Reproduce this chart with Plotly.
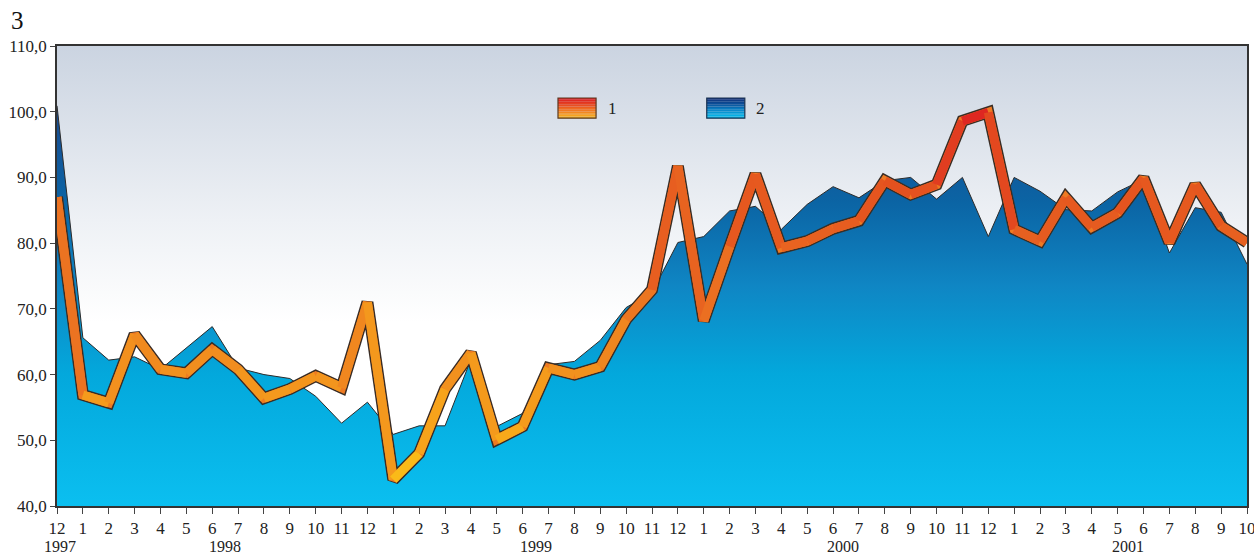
import plotly.graph_objects as go
from plotly.colors import sample_colorscale

# ---- data ----
months = ["12", "1", "2", "3", "4", "5", "6", "7", "8", "9", "10", "11", "12",
          "1", "2", "3", "4", "5", "6", "7", "8", "9", "10", "11", "12",
          "1", "2", "3", "4", "5", "6", "7", "8", "9", "10", "11", "12",
          "1", "2", "3", "4", "5", "6", "7", "8", "9", "10"]
years = ["1997", "1998", "1999", "2000", "2001"]
year_pos = [0.1, 6.5, 18.5, 30.4, 41.4]

series1 = [87.0, 56.9, 55.7, 66.1, 60.8, 60.2, 63.8, 60.8, 56.4, 57.8, 59.8, 58.0, 71.0,
           44.0, 48.0, 57.8, 63.3, 50.1, 52.1, 61.0, 60.0, 61.2, 68.4, 72.9, 91.7,
           68.2, 79.5, 90.5, 79.3, 80.3, 82.2, 83.4, 89.5, 87.4, 88.9, 98.6, 99.9,
           82.1, 80.3, 86.9, 82.4, 84.6, 89.9, 80.1, 88.9, 82.6, 80.1]
series2 = [100.9, 65.6, 62.2, 62.7, 60.8, 64.1, 67.3, 61.0, 60.0, 59.4, 56.7, 52.6, 55.8,
           50.9, 52.2, 52.2, 62.3, 52.1, 54.1, 61.5, 62.0, 65.2, 70.2, 72.5, 80.1,
           81.0, 84.9, 85.6, 82.1, 85.9, 88.6, 86.9, 89.5, 90.0, 86.7, 90.0, 81.0,
           90.0, 87.9, 85.1, 84.9, 87.8, 89.7, 78.5, 85.4, 84.7, 76.8]
names = ["1", "2"]

x = list(range(len(months)))
YMIN, YMAX = 40, 110
FONT = "Liberation Serif"

fig = go.Figure()

# plot-area background gradient
fig.add_trace(go.Scatter(
    x=[x[0], x[-1], x[-1], x[0], x[0]], y=[YMIN, YMIN, YMAX, YMAX, YMIN],
    mode="lines", line=dict(width=0), fill="toself",
    fillgradient=dict(type="vertical", start=YMIN, stop=YMAX,
                      colorscale=[[0, "#ffffff"], [0.4, "#ffffff"], [0.62, "#eef1f5"], [1, "#cbd4e1"]]),
    hoverinfo="skip", showlegend=False))

# series 2: area with vertical gradient
fig.add_trace(go.Scatter(
    x=x, y=series2, mode="lines", name=names[1],
    line=dict(color="#2b2b2b", width=1), fill="tozeroy",
    fillgradient=dict(type="vertical", start=YMIN, stop=max(series2),
                      colorscale=[[0, "#0bbff0"], [0.33, "#03a8dc"], [0.55, "#0f86c4"],
                                  [0.76, "#0b64a4"], [1, "#1a4a90"]]),
    showlegend=False))

# series 1: thick line with dark outline and vertical colour gradient
line_scale = [[0.0, "#fcc417"], [0.17, "#f7a41b"], [0.36, "#f08a1f"], [0.5, "#ec7421"],
              [0.8, "#e4511f"], [1.0, "#de2421"]]
fig.add_trace(go.Scatter(x=x, y=series1, mode="lines", line=dict(color="#3a2d25", width=12),
                         hoverinfo="skip", showlegend=False))
fig.add_trace(go.Scatter(x=x, y=series1, mode="lines", line=dict(color="#ee7a22", width=9),
                         name=names[0], showlegend=False))
for i in range(len(x) - 1):
    m = (series1[i] + series1[i + 1]) / 2
    t = min(max((m - 43) / (100 - 43), 0), 1)
    c = sample_colorscale(line_scale, [t])[0]
    fig.add_trace(go.Scatter(x=[x[i], x[i + 1]], y=[series1[i], series1[i + 1]], mode="lines",
                             line=dict(color=c, width=9), hoverinfo="skip", showlegend=False))

# custom legend with gradient swatches
shapes = []
def swatch(x0, x1, y0, y1, stops, border):
    n = 12
    for k in range(n):
        c = sample_colorscale(stops, [(k + 0.5) / n])[0]
        shapes.append(dict(type="rect", xref="paper", yref="paper",
                           x0=x0, x1=x1, y0=y0 + (y1 - y0) * k / n, y1=y0 + (y1 - y0) * (k + 1) / n,
                           fillcolor=c, line=dict(width=0), layer="above"))
    shapes.append(dict(type="rect", xref="paper", yref="paper", x0=x0, x1=x1, y0=y0, y1=y1,
                       line=dict(color=border, width=1.2), layer="above"))

swatch(0.421, 0.453, 0.843, 0.887,
       [[0, "#f9b81b"], [0.45, "#ef6e22"], [0.75, "#e33a21"], [1, "#dc1c22"]], "#5a3a22")
swatch(0.546, 0.578, 0.843, 0.887,
       [[0, "#00c3f2"], [0.4, "#0a86c8"], [0.7, "#0b4f98"], [1, "#142e78"]], "#1c3350")

annotations = [
    dict(text=names[0], xref="paper", yref="paper", x=0.461, y=0.865, xanchor="left",
         yanchor="middle", showarrow=False, font=dict(family=FONT, size=17, color="#222")),
    dict(text=names[1], xref="paper", yref="paper", x=0.586, y=0.865, xanchor="left",
         yanchor="middle", showarrow=False, font=dict(family=FONT, size=17, color="#222")),
    dict(text="3", xref="paper", yref="paper", x=-0.04, y=1.0, yshift=26, xanchor="left",
         yanchor="middle", showarrow=False, font=dict(family=FONT, size=25, color="#111")),
]
for yr, p in zip(years, year_pos):
    annotations.append(dict(text=yr, x=p, xref="x", yref="paper", y=0, yshift=-30,
                            yanchor="top", showarrow=False,
                            font=dict(family=FONT, size=16, color="#222")))

fig.update_layout(
    width=1254, height=555,
    margin=dict(l=57, r=7, t=46, b=49, autoexpand=False),
    paper_bgcolor="white", plot_bgcolor="white",
    separators=", ",
    font=dict(family=FONT, size=17, color="#222"),
    shapes=shapes, annotations=annotations,
    showlegend=False,
    xaxis=dict(range=[x[0], x[-1]], tickmode="array", tickvals=x, ticktext=months,
               ticks="outside", ticklen=6, tickcolor="#444", showgrid=False, zeroline=False,
               showline=True, linecolor="#333", linewidth=1.5, mirror=True, automargin=False,
               ticklabeloverflow="allow",
               tickfont=dict(family=FONT, size=17, color="#222")),
    yaxis=dict(range=[YMIN, YMAX], tickmode="array", tickvals=list(range(YMIN, YMAX + 1, 10)),
               tickformat=".1f", ticks="outside", ticklen=5, tickcolor="#444", automargin=False,
               ticklabeloverflow="allow",
               showgrid=False, zeroline=False, showline=True, linecolor="#333", linewidth=1.5,
               mirror=True, tickfont=dict(family=FONT, size=17, color="#222")),
)

fig.write_html("out.html")
